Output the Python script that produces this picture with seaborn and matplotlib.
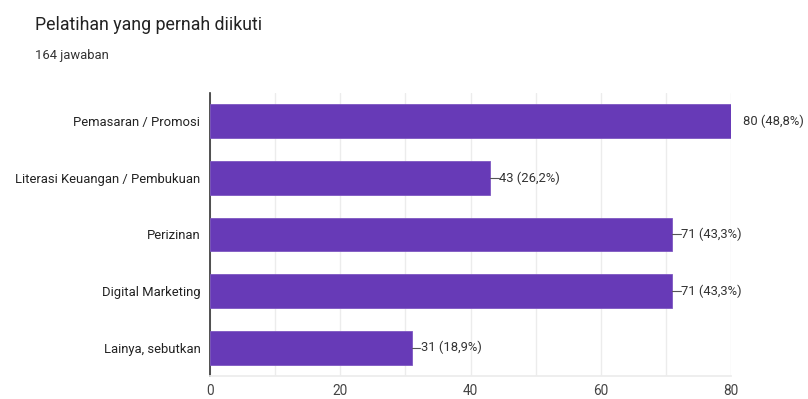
import matplotlib
matplotlib.use("Agg")
import matplotlib.pyplot as plt
import seaborn as sns
import pandas as pd

categories = ["Pemasaran / Promosi", "Literasi Keuangan / Pembukuan", "Perizinan",
              "Digital Marketing", "Lainya, sebutkan"]
values = [80, 43, 71, 71, 31]
labels = ["80 (48,8%)", "43 (26,2%)", "71 (43,3%)", "71 (43,3%)", "31 (18,9%)"]
xticks = [0, 20, 40, 60, 80]

sns.set_theme(style="white")
plt.rcParams['font.family'] = ['Roboto', 'DejaVu Sans']

fig = plt.figure(figsize=(8.08, 3.99), dpi=100)
ax = fig.add_axes([210/808, 1-376/399, (731-210)/808, (376-93)/399])

df = pd.DataFrame({"cat": categories, "val": values})
sns.barplot(data=df, x="val", y="cat", color="#673ab7", saturation=1, width=0.6,
            ax=ax, edgecolor="#7e57c2", linewidth=0.6, zorder=3)

xmax = 80
ax.set_xlim(0, xmax)
ax.set_ylim(4.5, -0.5)
ax.set_xticks(xticks)
ax.set_xticks(range(10, 80, 20), minor=True)
ax.grid(True, axis="x", which="both", color="#ececec", linewidth=1, zorder=0)
ax.grid(False, axis="y")
for s in ["top", "right"]:
    ax.spines[s].set_visible(False)
ax.spines["bottom"].set_visible(True)
ax.spines["bottom"].set_color("#ececec")
ax.spines["left"].set_color("#333333")
ax.spines["left"].set_linewidth(1.2)
ax.set_xlabel("")
ax.set_ylabel("")
ax.tick_params(axis="x", which="both", length=0, labelsize=9.8, labelcolor="#444444", pad=6)
ax.tick_params(axis="y", length=0, labelsize=9.4, labelcolor="#222222", pad=7)

for i, (v, lab) in enumerate(zip(values, labels)):
    if v >= xmax:
        ax.text(v + 1.8, i, lab, va="center", ha="left", fontsize=9.4, color="#333333",
                clip_on=False)
    else:
        ax.plot([v, v + 1.3], [i, i], color="#555555", linewidth=0.8, zorder=4, clip_on=False)
        ax.text(v + 1.35, i, lab, va="center", ha="left", fontsize=9.4, color="#333333",
                clip_on=False)

fig.text(35/808, 1-25/399, "Pelatihan yang pernah diikuti", fontsize=12.8,
         color="#222222", va="center", ha="left")
fig.text(35/808, 1-55/399, "164 jawaban", fontsize=9.4, color="#333333",
         va="center", ha="left")

fig.savefig("out.png", dpi=100)
